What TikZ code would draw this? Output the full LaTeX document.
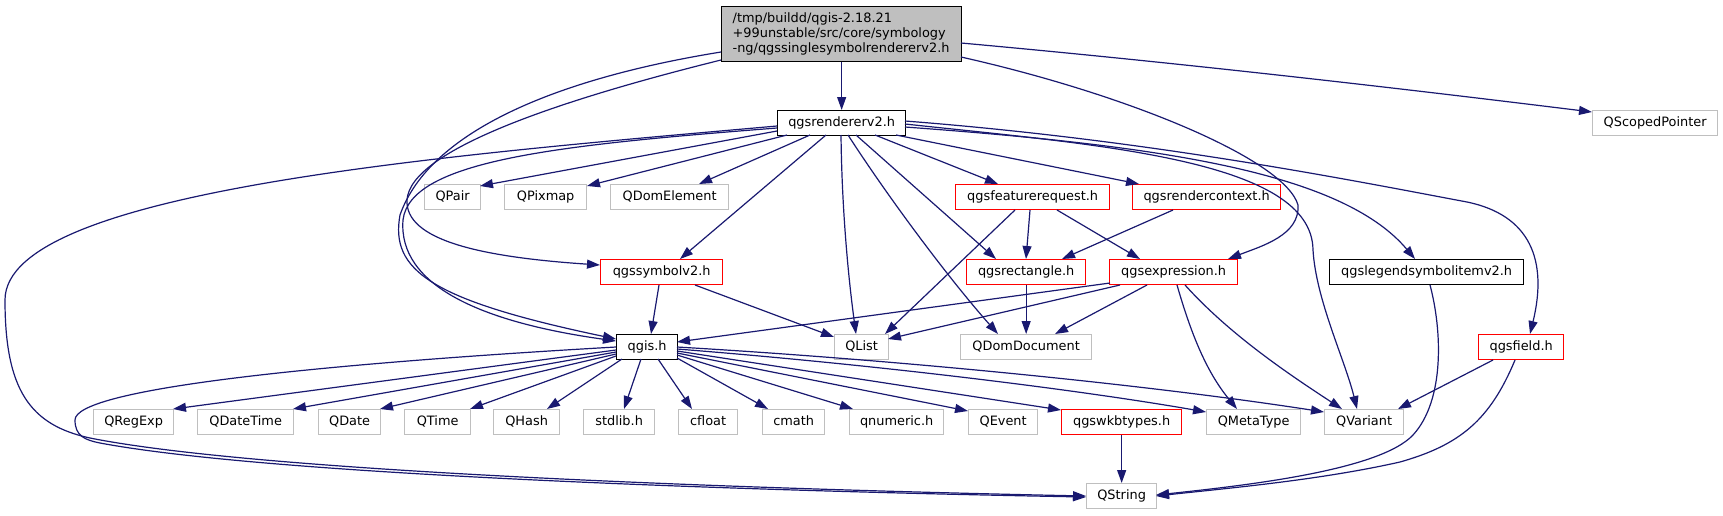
\documentclass[tikz,border=0pt]{standalone}
\usepackage{fontspec}
\setmainfont{DejaVu Sans}
\usetikzlibrary{arrows.meta,calc}
\definecolor{edgeblue}{HTML}{191970}
\definecolor{boxgray}{HTML}{BFBFBF}
\definecolor{rootfill}{HTML}{BFBFBF}
\begin{document}
\begin{tikzpicture}[x=1pt,y=-1pt,
  font=\fontsize{12.9}{15}\selectfont,
  box/.style={anchor=north west, line width=1.3pt, minimum height=25pt, inner sep=0pt, text height=9.4pt, text depth=2.5pt, fill=white},
  gbox/.style={box, draw=boxgray},
  rbox/.style={box, draw=red},
  kbox/.style={box, draw=black},
  dep/.style={draw=edgeblue, line width=1.2pt, -{Triangle[length=13pt,width=9pt]}}]
\useasboundingbox (0,0) rectangle (1723,515);
% nodes
\node[anchor=north west, draw=black, fill=rootfill, line width=1.3pt, minimum width=240pt, minimum height=55pt, text width=218pt, inner xsep=11pt, inner ysep=0pt, align=left] (root) at (721,6) {/tmp/buildd/qgis-2.18.21\\+99unstable/src/core/symbology\\-ng/qgssinglesymbolrendererv2.h};
\node[kbox, minimum width=128pt] (rend) at (777,110) {qgsrendererv2.h};
\node[gbox, minimum width=125pt] (qsp) at (1592,110) {QScopedPointer};
\node[gbox, minimum width=56pt] (qpair) at (424,184) {QPair};
\node[gbox, minimum width=82pt] (qpix) at (504,184) {QPixmap};
\node[gbox, minimum width=118pt] (qdel) at (610,184) {QDomElement};
\node[rbox, minimum width=154pt] (qfr) at (955,184) {qgsfeaturerequest.h};
\node[rbox, minimum width=148pt] (qrc) at (1132,184) {qgsrendercontext.h};
\node[rbox, minimum width=122pt] (qsym) at (600,259) {qgssymbolv2.h};
\node[rbox, minimum width=119pt] (qrect) at (966,259) {qgsrectangle.h};
\node[rbox, minimum width=128pt] (qexpr) at (1109,259) {qgsexpression.h};
\node[kbox, minimum width=194pt] (qleg) at (1329,259) {qgslegendsymbolitemv2.h};
\node[kbox, minimum width=61pt] (qgis) at (616,334) {qgis.h};
\node[gbox, minimum width=54pt] (qlist) at (834,334) {QList};
\node[gbox, minimum width=131pt] (qdd) at (960,334) {QDomDocument};
\node[rbox, minimum width=85pt] (qfield) at (1478,334) {qgsfield.h};
\node[gbox, minimum width=80pt] (qregexp) at (93,409) {QRegExp};
\node[gbox, minimum width=96pt] (qdt) at (197,409) {QDateTime};
\node[gbox, minimum width=62pt] (qdate) at (318,409) {QDate};
\node[gbox, minimum width=66pt] (qtime) at (404,409) {QTime};
\node[gbox, minimum width=66pt] (qhash) at (493,409) {QHash};
\node[gbox, minimum width=71pt] (stdlib) at (583,409) {stdlib.h};
\node[gbox, minimum width=59pt] (cfloat) at (678,409) {cfloat};
\node[gbox, minimum width=62pt] (cmath) at (762,409) {cmath};
\node[gbox, minimum width=94pt] (qnum) at (849,409) {qnumeric.h};
\node[gbox, minimum width=69pt] (qevent) at (968,409) {QEvent};
\node[rbox, minimum width=120pt] (qwkb) at (1061,409) {qgswkbtypes.h};
\node[gbox, minimum width=94pt] (qmeta) at (1206,409) {QMetaType};
\node[gbox, minimum width=79pt] (qvar) at (1324,409) {QVariant};
\node[gbox, minimum width=70pt] (qstr) at (1086,483) {QString};
% root edges
\draw[dep] (root) -- (rend);
\draw[dep] ($(root.north west)+(240,37)$) .. controls (1171,62) and (1381,86) .. ($(qsp.north west)+(0,2)$);
\draw[dep] ($(root.north west)+(240,51)$) .. controls (1130,95) and (1285,160) .. (1298,205) .. controls (1300,235) and (1262,246) .. ($(qexpr.north west)+(119,0)$);
\draw[dep] ($(root.north west)+(0,46)$) .. controls (560,78) and (430,130) .. (400,215) .. controls (390,270) and (430,300) .. ($(qgis.north west)+(0,5)$);
\draw[dep] ($(root.north west)+(0,54)$) .. controls (560,100) and (410,150) .. (407,200) .. controls (405,240) and (480,257) .. ($(qsym.north west)+(0,6)$);
% rendererv2 edges
\draw[dep] ($(rend.north west)+(0,18)$) .. controls (560,145) and (410,160) .. (403,220) .. controls (398,285) and (480,322) .. ($(qgis.north west)+(0,7)$);
\draw[dep] ($(rend.north west)+(0,16)$) .. controls (450,155) and (5,190) .. (5,300) .. controls (5,390) and (30,425) .. (90,438) .. controls (250,470) and (700,488) .. ($(qstr.north west)+(0,13)$);
\draw[dep] ($(rend.north west)+(0,21)$) -- ($(qpair.north west)+(56,2)$);
\draw[dep] ($(rend.north west)+(10,25)$) -- ($(qpix.north west)+(83,2)$);
\draw[dep] ($(rend.north west)+(33,25)$) -- ($(qdel.north west)+(89,0)$);
\draw[dep] ($(rend.north west)+(49,25)$) -- ($(qsym.north west)+(80,0)$);
\draw[dep] ($(rend.north west)+(64,25)$) .. controls (842,220) and (850,290) .. ($(qlist.north west)+(22,0)$);
\draw[dep] ($(rend.north west)+(71,25)$) .. controls (890,200) and (950,280) .. ($(qdd.north west)+(38,0)$);
\draw[dep] ($(rend.north west)+(79,25)$) -- ($(qrect.north west)+(30,0)$);
\draw[dep] ($(rend.north west)+(98,25)$) -- ($(qfr.north west)+(43,0)$);
\draw[dep] ($(rend.north west)+(119,25)$) -- ($(qrc.north west)+(7,0)$);
\draw[dep] ($(rend.north west)+(128,14)$) .. controls (1100,145) and (1312,160) .. (1313,250) .. controls (1316,300) and (1345,360) .. ($(qvar.north west)+(33,0)$);
\draw[dep] ($(rend.north west)+(128,17)$) .. controls (1150,145) and (1340,170) .. ($(qleg.north west)+(86,0)$);
\draw[dep] ($(rend.north west)+(128,11)$) .. controls (1150,140) and (1350,180) .. (1467,202) .. controls (1530,215) and (1548,260) .. ($(qfield.north west)+(52,0)$);
% featurerequest, rendercontext
\draw[dep] ($(qfr.north west)+(60,26)$) -- ($(qlist.north west)+(51,0)$);
\draw[dep] ($(qfr.north west)+(75,26)$) -- ($(qrect.north west)+(60,0)$);
\draw[dep] ($(qfr.north west)+(102,26)$) -- ($(qexpr.north west)+(31,0)$);
\draw[dep] ($(qrc.north west)+(41,26)$) -- ($(qrect.north west)+(96,0)$);
% symbolv2
\draw[dep] ($(qsym.north west)+(59,26)$) -- ($(qgis.north west)+(35,0)$);
\draw[dep] ($(qsym.north west)+(95,26)$) -- ($(qlist.north west)+(0,3)$);
% rectangle
\draw[dep] (qrect) -- (qdd);
% expression
\draw[dep] ($(qexpr.north west)+(1,24)$) -- ($(qgis.north west)+(61,8)$);
\draw[dep] ($(qexpr.north west)+(11,26)$) -- ($(qlist.north west)+(54,5)$);
\draw[dep] ($(qexpr.north west)+(38,26)$) -- ($(qdd.north west)+(95,0)$);
\draw[dep] ($(qexpr.north west)+(68,26)$) .. controls (1190,330) and (1205,370) .. ($(qmeta.north west)+(31,0)$);
\draw[dep] ($(qexpr.north west)+(76,26)$) .. controls (1230,335) and (1290,375) .. ($(qvar.north west)+(18,0)$);
% legend, field, wkb
\draw[dep] ($(qleg.north west)+(101,26)$) .. controls (1442,330) and (1445,400) .. (1413,435) .. controls (1380,470) and (1250,485) .. ($(qstr.north west)+(70,12)$);
\draw[dep] ($(qfield.north west)+(15,26)$) -- ($(qvar.north west)+(74,0)$);
\draw[dep] ($(qfield.north west)+(37,26)$) .. controls (1490,420) and (1460,445) .. (1400,462) .. controls (1320,480) and (1230,488) .. ($(qstr.north west)+(70,13)$);
\draw[dep] (qwkb) -- (qstr);
% qgis edges
\draw[dep] ($(qgis.north west)+(0,13)$) .. controls (300,365) and (75,390) .. (75,420) .. controls (75,436) and (85,440) .. (100,443) .. controls (260,473) and (700,490) .. ($(qstr.north west)+(0,14)$);
\draw[dep] ($(qgis.north west)+(0,16)$) -- ($(qregexp.north west)+(80,0)$);
\draw[dep] ($(qgis.north west)+(0,18)$) -- ($(qdt.north west)+(96,0)$);
\draw[dep] ($(qgis.north west)+(0,20)$) -- ($(qdate.north west)+(62,0)$);
\draw[dep] ($(qgis.north west)+(0,22)$) -- ($(qtime.north west)+(66,0)$);
\draw[dep] ($(qgis.north west)+(6,25)$) -- ($(qhash.north west)+(54,0)$);
\draw[dep] ($(qgis.north west)+(25,25)$) -- ($(stdlib.north west)+(41,0)$);
\draw[dep] ($(qgis.north west)+(42,25)$) -- ($(cfloat.north west)+(14,0)$);
\draw[dep] ($(qgis.north west)+(61,24)$) -- ($(cmath.north west)+(6,0)$);
\draw[dep] ($(qgis.north west)+(61,21)$) -- ($(qnum.north west)+(4,0)$);
\draw[dep] ($(qgis.north west)+(61,19)$) -- ($(qevent.north west)+(0,2)$);
\draw[dep] ($(qgis.north west)+(61,17)$) -- ($(qwkb.north west)+(0,1)$);
\draw[dep] ($(qgis.north west)+(61,15)$) .. controls (880,365) and (1080,390) .. ($(qmeta.north west)+(0,3)$);
\draw[dep] ($(qgis.north west)+(61,13)$) .. controls (900,360) and (1150,385) .. ($(qvar.north west)+(0,3)$);
\end{tikzpicture}
\end{document}
